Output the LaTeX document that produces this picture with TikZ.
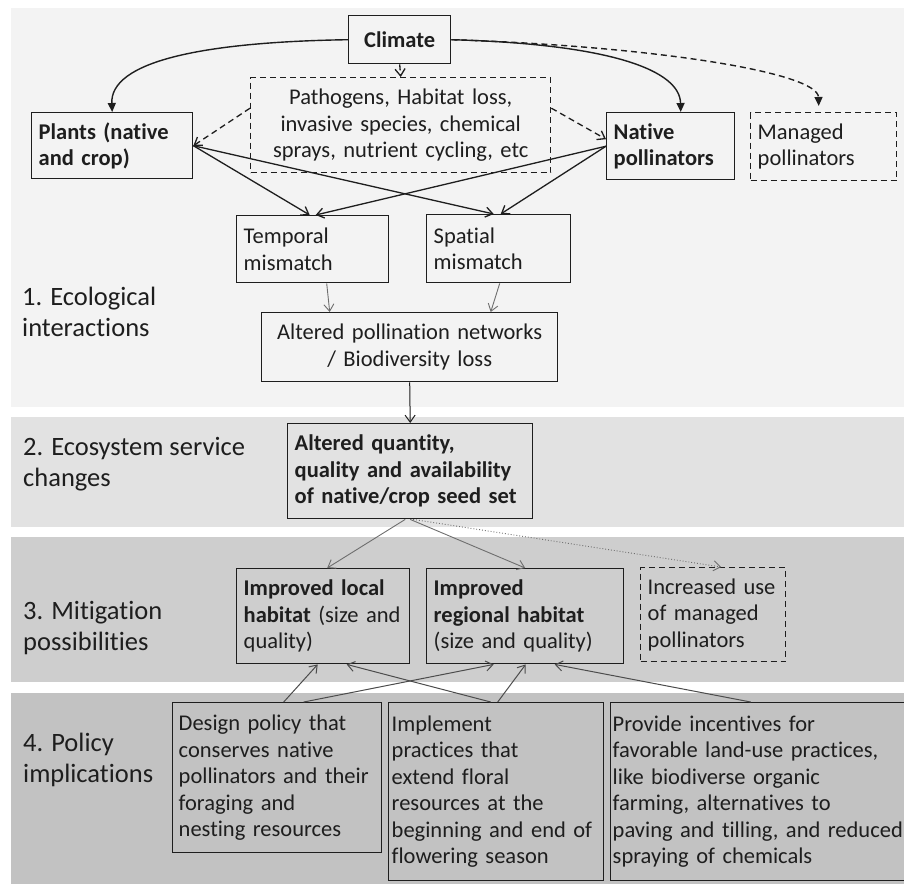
\documentclass[tikz,border=0pt]{standalone}
\usepackage{fontspec}
\setmainfont{Carlito}[Ligatures={NoCommon}]
\usepackage{tikz}
\usetikzlibrary{arrows.meta}

\definecolor{bandA}{HTML}{F3F3F3}
\definecolor{bandB}{HTML}{E2E2E2}
\definecolor{bandC}{HTML}{CECECE}
\definecolor{bandD}{HTML}{C2C2C2}
\definecolor{ink}{HTML}{1E1E1E}
\definecolor{arrgray}{HTML}{6E6E6E}

\newcommand{\boxfont}{\fontsize{22.5}{26.5}\selectfont\hyphenpenalty=10000}
\newcommand{\lblfont}{\fontsize{26.5}{31}\selectfont}

\begin{document}
\begin{tikzpicture}[x=1pt,y=-1pt,
  box/.style 2 args={draw=ink,line width=1.4pt,anchor=north west,align=left,
     inner xsep=7pt,inner ysep=0pt,font=\boxfont,text=ink,
     minimum width=#1pt,text width=#1pt-14pt,minimum height=#2pt},
  dbox/.style={dash pattern=on 6pt off 4pt},
  lbl/.style={anchor=west,align=left,font=\lblfont,text=ink,inner sep=0pt},
  arr/.style={-{Straight Barb[length=7pt,width=10pt]},line width=1.3pt,draw=ink},
  carr/.style={-{Triangle[length=9pt,width=8pt]},line width=1.4pt,draw=ink},
  garr/.style={-{Straight Barb[length=7pt,width=10pt]},line width=0.9pt,draw=arrgray},
  parr/.style={-{Straight Barb[length=7pt,width=10pt]},line width=1pt,draw=black!70}
]
\useasboundingbox (0,0) rectangle (904,884);
% Bands
\fill[bandA] (11,8) rectangle (904,407);
\fill[bandB] (11,417) rectangle (904,527);
\fill[bandC] (11,537) rectangle (904,682);
\fill[bandD] (11,693) rectangle (904,884);
% Band labels
\node[lbl] (ecol) at (22,312) {1. Ecological\\interactions};
\node[lbl] (servc) at (23,464) {2. Ecosystem service\\changes};
\node[lbl] (mitig) at (23,628) {3. Mitigation\\possibilities};
\node[lbl] (polic) at (23,760) {4. Policy\\implications};
% Ecological interactions
\node[box={102}{48},align=center,font=\boxfont\bfseries] (climate) at (348,15) {Climate};
\node[box={300}{95},dbox,align=center] (threats) at (250,77)
    {Pathogens, Habitat loss,\\invasive species, chemical\\sprays, nutrient cycling, etc};
\node[box={161}{66},font=\boxfont\bfseries] (plants) at (31,112) {Plants (native\\and crop)};
\node[box={128}{67},font=\boxfont\bfseries] (native) at (606,112) {Native\\pollinators};
\node[box={146}{68},dbox] (managed) at (750,112) {Managed\\pollinators};
\node[box={152}{67}] (temporal) at (236,215) {Temporal\\mismatch};
\node[box={144}{68}] (spatial) at (426,214) {Spatial\\mismatch};
\node[box={296}{69},align=center] (networks) at (261,312)
    {Altered pollination networks\\/ Biodiversity loss};
% Ecosystem service
\node[box={245}{95},font=\boxfont\bfseries] (seedset) at (287,423)
    {Altered quantity,\\quality and availability\\of native/crop seed set};
% Mitigation
\node[box={173}{95}] (local) at (236,568)
    {\textbf{Improved local}\\\textbf{habitat} (size and\\quality)};
\node[box={197}{95}] (regional) at (426,568)
    {\textbf{Improved}\\\textbf{regional habitat}\\(size and quality)};
\node[box={145}{94},dbox] (increased) at (640,567)
    {Increased use\\of managed\\pollinators};
% Policy
\node[box={209}{150},inner xsep=6pt,text width=197pt] (design) at (172,702)
    {Design policy that\\conserves native\\pollinators and their\\foraging and\\nesting resources};
\node[box={215}{178},inner xsep=3pt,text width=209pt] (implement) at (388,702)
    {Implement\\practices that\\extend floral\\resources at the\\beginning and end of\\flowering season};
\node[box={296}{178},inner xsep=2pt,text width=292pt] (incentives) at (610,702)
    {Provide incentives for\\favorable land-use practices,\\like biodiverse organic\\farming, alternatives to\\paving and tilling, and reduced\\spraying of chemicals};
% Arrows: climate
\draw[carr] (climate.west) .. controls (200,42) and (110,62) .. (plants.north);
\draw[carr] (climate.east) .. controls (610,44) and (680,70) .. ([xshift=10pt]native.north);
\draw[carr,dbox] (climate.east) .. controls (650,46) and (818,72) .. ([xshift=-5pt,yshift=6pt]managed.north);
\draw[arr,dbox] (climate.south) -- (threats.north);
\draw[arr,dbox] ([yshift=17pt]threats.west) -- (plants.east);
\draw[arr,dbox] ([yshift=17pt]threats.east) -- ([yshift=7pt]native.west);
% Arrows: mismatches
\draw[arr] (plants.east) -- ([xshift=-3pt]temporal.north);
\draw[arr] (plants.east) -- ([xshift=-5pt]spatial.north);
\draw[arr] (native.west) -- ([xshift=3pt]temporal.north);
\draw[arr] (native.west) -- ([xshift=2pt]spatial.north);
\draw[garr] ([xshift=14pt]temporal.south) -- ([xshift=-80pt]networks.north);
\draw[garr] ([xshift=1pt]spatial.south) -- ([xshift=81pt]networks.north);
\draw[arr,line width=1pt] (networks.south) -- (seedset.north);
% Arrows: seed set to mitigation
\draw[garr] ([xshift=-5pt]seedset.south) -- ([xshift=4pt]local.north);
\draw[garr] (seedset.south) -- (regional.north);
\draw[garr,dotted] ([xshift=3pt]seedset.south) -- ([xshift=8pt]increased.north);
% Arrows: policy to mitigation
\draw[parr] ([xshift=6.5pt]design.north) -- ([xshift=-5.5pt]local.south);
\draw[parr] ([xshift=26.5pt]design.north) -- ([xshift=-31.5pt]regional.south);
\draw[parr] ([xshift=-5.5pt]implement.north) -- ([xshift=23.5pt]local.south);
\draw[parr] ([xshift=1.5pt]implement.north) -- ([xshift=0.5pt]regional.south);
\draw[parr] ([xshift=-8pt]incentives.north) -- ([xshift=29.5pt]regional.south);
\end{tikzpicture}
\end{document}
